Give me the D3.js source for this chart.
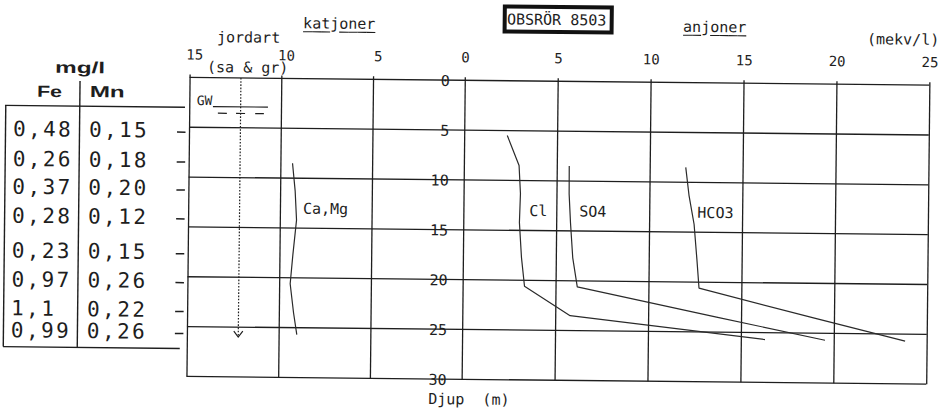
<!DOCTYPE html>
<html>
<head>
<meta charset="utf-8">
<script src="https://cdn.jsdelivr.net/npm/d3@7"></script>
<style>
  html, body { margin: 0; padding: 0; background: #fff; }
  svg { display: block; }
  text { font-family: "DejaVu Sans Mono", "Liberation Mono", monospace; fill: #1e1e1e; white-space: pre; }
  .bold { font-family: "Liberation Sans", Arial, sans-serif; font-weight: bold; }
</style>
</head>
<body>
<svg id="chart" width="948" height="419"></svg>
<script>
// Sampling depths (m) in observation well 8503
const depths = [5.5, 8.5, 11.3, 14.2, 17.7, 20.6, 23.5, 25.7];
// Iron and manganese (mg/l) per sample
const fe = ["0,48", "0,26", "0,37", "0,28", "0,23", "0,97", "1,1", "0,99"];
const mn = ["0,15", "0,18", "0,20", "0,12", "0,15", "0,26", "0,22", "0,26"];
// Cations (mekv/l), plotted to the left of zero
const caMg = [null, 9.34, 9.18, 9.09, 9.27, 9.40, 9.20, 9.01];
// Anions (mekv/l)
const cl   = [2.32, 2.97, 3.06, 3.02, 3.15, 3.33, 5.80, 16.30];
const so4  = [null, 5.67, 5.68, 5.77, 5.91, 6.17, 13.68, 19.53];
const hco3 = [null, 11.94, 12.13, 12.42, 12.59, 12.72, 18.95, 23.84];
// Axis ticks
const cationTicks = [15, 10, 5];
const anionTicks = [0, 5, 10, 15, 20, 25];
const depthTicks = [0, 5, 10, 15, 20, 25, 30];
// Soil column: groundwater level and bottom of the column (m)
const gwDepth = 2.9;
const soilBottom = 26;
const soilColumnAt = 12.2; // position on the cation scale

const svg = d3.select("#chart");
// the sheet sits slightly askew
const g = svg.append("g").attr("transform", "rotate(0.6,464,230)");

const xCat = d3.scaleLinear().domain([15, 0]).range([188, 463.2]);
const xAn  = d3.scaleLinear().domain([0, 25]).range([463.2, 927.8]);
const y    = d3.scaleLinear().domain([0, 30]).range([80.3, 379.3]);

const ink = "#1e1e1e";
const plotH = y(30) - y(0);

// horizontal grid
g.append("g").selectAll("line").data(depthTicks).join("line")
  .attr("x1", xCat(15)).attr("x2", xAn(25))
  .attr("y1", d => y(d)).attr("y2", d => y(d))
  .attr("stroke", ink).attr("stroke-width", 1.3);

// top axes with full-height grid lines
function topAxis(scale, ticks, dx) {
  const ax = g.append("g").attr("transform", `translate(0,${y(0)})`)
    .call(d3.axisTop(scale).tickValues(ticks).tickSizeInner(-plotH).tickSizeOuter(0).tickPadding(18));
  ax.select(".domain").remove();
  ax.selectAll("line").attr("y1", -3).attr("stroke", ink).attr("stroke-width", 1.3);
  ax.selectAll("text").attr("x", dx).style("font-size", "14px")
    .style("font-family", "'DejaVu Sans Mono', monospace").attr("fill", ink);
  return ax;
}
topAxis(xCat, cationTicks, 4.5);
topAxis(xAn, anionTicks, 0);

// depth labels along the zero line
const dAx = g.append("g").attr("transform", `translate(${xAn(0)},0)`)
  .call(d3.axisLeft(y).tickValues(depthTicks).tickSize(0).tickPadding(15));
dAx.select(".domain").remove();
dAx.selectAll("text").attr("dy", "0.36em").style("font-size", "15px")
  .style("font-family", "'DejaVu Sans Mono', monospace").attr("fill", ink);

// series lines
const line = (scale) => d3.line()
  .defined(d => d.v != null)
  .x(d => scale(d.v)).y(d => y(d.d));
const series = [
  { name: "Ca,Mg", vals: caMg, scale: xCat, gap: 6.4 },
  { name: "Cl",    vals: cl,   scale: xAn,  gap: 9.8 },
  { name: "SO4",   vals: so4,  scale: xAn,  gap: 8.7 },
  { name: "HCO3",  vals: hco3, scale: xAn,  gap: 3.2 }
];
series.forEach(s => {
  const pts = depths.map((d, i) => ({ d, v: s.vals[i] }));
  g.append("path").datum(pts)
    .attr("d", line(s.scale))
    .attr("fill", "none").attr("stroke", "#2a2a2a").attr("stroke-width", 1.2)
    .attr("stroke-linejoin", "round");
  g.append("text")
    .attr("x", s.scale(s.vals[3]) + s.gap).attr("y", y(13.55))
    .style("font-size", "15px").text(s.name);
});

// soil column with groundwater level
const sx = xCat(soilColumnAt);
g.append("line").attr("x1", sx).attr("x2", sx).attr("y1", y(0)).attr("y2", y(soilBottom))
  .attr("stroke", ink).attr("stroke-width", 1.2).attr("stroke-dasharray", "1.6,1.6");
g.append("path")
  .attr("d", `M${sx - 4.5},${y(soilBottom) - 6}L${sx},${y(soilBottom)}L${sx + 4.5},${y(soilBottom) - 6}`)
  .attr("fill", "none").attr("stroke", ink).attr("stroke-width", 1.2);
const gy = y(gwDepth);
g.append("line").attr("x1", sx - 27.7).attr("x2", sx + 27.3).attr("y1", gy).attr("y2", gy)
  .attr("stroke", ink).attr("stroke-width", 1.2);
[[-22.7, -13.7], [-4.5, 4.5], [14.6, 23.3]].forEach(([a, b]) => {
  g.append("line").attr("x1", sx + a).attr("x2", sx + b).attr("y1", gy + 6.6).attr("y2", gy + 6.6)
    .attr("stroke", ink).attr("stroke-width", 1.2);
});
g.append("text").attr("x", sx - 44).attr("y", gy - 1.5).style("font-size", "13px").text("GW");

// headings
g.append("text").attr("x", 215).attr("y", 44.8).style("font-size", "15px").text("jordart");
g.append("text").attr("x", 205.4).attr("y", 74.8).style("font-size", "15px").text("(sa & gr)");
g.append("text").attr("x", 865).attr("y", 40).style("font-size", "15px").text("(mekv/l)");
g.append("text").attr("x", 430).attr("y", 404.4).style("font-size", "15px").text("Djup  (m)");

function underlined(str, x, base) {
  const cw = 9.03;
  g.append("text").attr("x", x).attr("y", base).style("font-size", "15px").text(str);
  str.split("").forEach((ch, i) => {
    if (ch === "j") return;
    g.append("line").attr("x1", x + i * cw).attr("x2", x + (i + 1) * cw)
      .attr("y1", base + 3.4).attr("y2", base + 3.4)
      .attr("stroke", ink).attr("stroke-width", 1.1);
  });
}
underlined("katjoner", 301, 30);
underlined("anjoner", 681, 29.5);

// well id box
g.append("rect").attr("x", 502.5).attr("y", 6).attr("width", 107).attr("height", 25)
  .attr("fill", "#fff").attr("stroke", "#111").attr("stroke-width", 4);
g.append("text").attr("x", 504.8).attr("y", 24).style("font-size", "15px").text("OBSRÖR 8503");

// Fe / Mn table
g.append("text").attr("class", "bold").attr("x", 53.4).attr("y", 77)
  .style("font-size", "16px").attr("textLength", 50).attr("lengthAdjust", "spacingAndGlyphs").text("mg/l");
g.append("text").attr("class", "bold").attr("x", 35.6).attr("y", 101.3)
  .style("font-size", "16px").attr("textLength", 25).attr("lengthAdjust", "spacingAndGlyphs").text("Fe");
g.append("text").attr("class", "bold").attr("x", 88.3).attr("y", 101)
  .style("font-size", "16px").attr("textLength", 35).attr("lengthAdjust", "spacingAndGlyphs").text("Mn");

const tbl = g.append("g").attr("stroke", ink).attr("stroke-width", 1.4);
tbl.append("line").attr("x1", 3.7).attr("x2", 183.7).attr("y1", 110.2).attr("y2", 110.2);
tbl.append("line").attr("x1", 4.5).attr("x2", 4.5).attr("y1", 110.2).attr("y2", 351.4);
tbl.append("line").attr("x1", 4.3).attr("x2", 181).attr("y1", 351.4).attr("y2", 351.4);
tbl.append("line").attr("x1", 78.5).attr("x2", 78.5).attr("y1", 85).attr("y2", 351.4);

g.append("g").selectAll("line").data(depths).join("line")
  .attr("x1", 176).attr("x2", 184.5)
  .attr("y1", d => y(d)).attr("y2", d => y(d))
  .attr("stroke", ink).attr("stroke-width", 1.5);

g.append("g").selectAll("text").data(fe).join("text")
  .attr("x", 12).attr("y", (d, i) => y(depths[i]) + 5.6)
  .style("font-size", "21px").style("letter-spacing", "2.4px").text(d => d);
g.append("g").selectAll("text").data(mn).join("text")
  .attr("x", 88).attr("y", (d, i) => y(depths[i]) + 5.6)
  .style("font-size", "21px").style("letter-spacing", "2.4px").text(d => d);
</script>
</body>
</html>
